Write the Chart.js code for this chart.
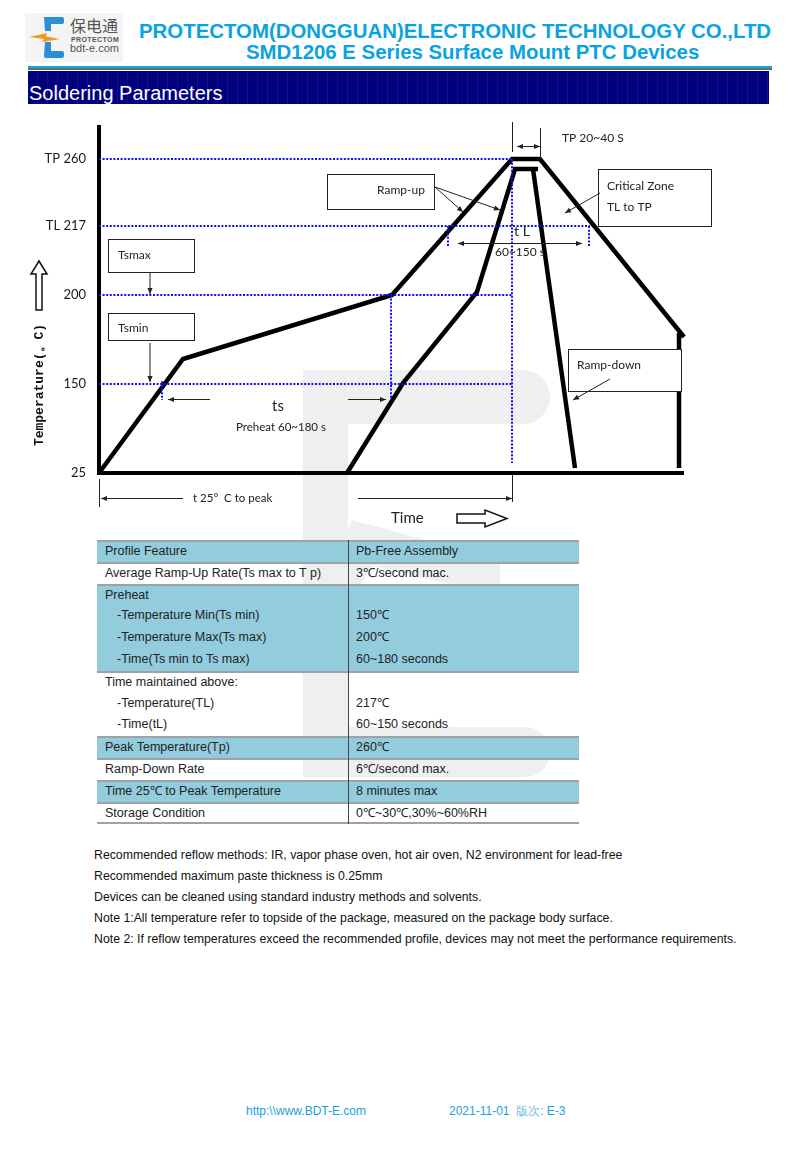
<!DOCTYPE html>
<html>
<head>
<meta charset="utf-8">
<script src="https://cdn.jsdelivr.net/npm/chart.js@4.4.1/dist/chart.umd.min.js"></script>
<style>
html, body { margin: 0; padding: 0; background: #fff; }
body { width: 800px; height: 1150px; position: relative; overflow: hidden;
       font-family: "Liberation Sans", Arial, sans-serif; }
.abs { position: absolute; }
.title { color: #0aa3e2; font-weight: bold; font-size: 20.4px; line-height: 20px; white-space: nowrap; }
#rule1 { left: 28px; top: 66px; width: 744px; height: 2px; background: #1aa6cf; }
#rule2 { left: 28px; top: 68px; width: 744px; height: 2px; background: #5f6f78; }
#bar { left: 28px; top: 71px; width: 741px; height: 33px;
       background: repeating-linear-gradient(90deg, #00007c 0 9px, #10108a 9px 10px); }
#bar span { position: absolute; left: 1px; top: 12px; color: #fff; font-size: 20px; line-height: 20px; white-space: nowrap; }
#watermark { left: 0; top: 0; z-index: 0; }
#profile { left: 0; top: 0; z-index: 1; }
#table { left: 97px; top: 540px; width: 482px; height: 283px; z-index: 2; font-size: 12.5px; color: #222; }
.row { position: absolute; left: 0; width: 482px; height: 21.8px; line-height: 21.8px; white-space: nowrap; }
.row.c { background: #93cddd; }
.row.sep { border-top: 2px solid #9aa3a6; box-sizing: border-box; line-height: 19.8px; }
.row .a { position: absolute; left: 8px; }
.row .a.ind { left: 20px; }
.row .b { position: absolute; left: 259px; }
.note { left: 94px; font-size: 12.3px; line-height: 21px; color: #111; white-space: nowrap; z-index: 2; }
.foot { top: 1103px; font-size: 12px; line-height: 16px; color: #1a9fe0; white-space: nowrap; }
</style>
</head>
<body>

<!-- faint logo watermark behind the chart and table -->
<svg id="watermark" class="abs" width="800" height="1150">
  <g fill="#efefef">
    <path d="M303 370 H523 A27 27 0 0 1 523 424 H348 V432 H303 Z"/>
    <rect x="303" y="370" width="45" height="407"/>
    <path d="M303 727 H525 A25 25 0 0 1 525 777 H303 Z"/>
    <path d="M318 598 L352 520 L500 560 L500 596 L372 566 L352 598 Z"/>
  </g>
</svg>

<!-- company logo -->
<svg class="abs" style="left:25px;top:13px" width="98" height="49">
  <rect x="0" y="0" width="98" height="49" fill="#f4f4f4"/>
  <path d="M19 4 H37 a2 2 0 0 1 2 2 V9 a2 2 0 0 1 -2 2 H26 V18 H20 Z" fill="#2b8fd7"/>
  <path d="M20 29 H26 V38 H37 a2 2 0 0 1 2 2 V43 a2 2 0 0 1 -2 2 H21 a2 2 0 0 1 -2 -2 Z" fill="#2b8fd7"/>
  <path d="M4 24 L22 20 L21 23.5 L35 26 L17 29 L19 26 Z" fill="#f39a1e"/>
  <text x="45" y="19" font-family="Noto Sans CJK SC" font-size="16" fill="#555">保电通</text>
  <text x="46" y="29" font-family="Liberation Sans" font-weight="bold" font-size="7" letter-spacing="0.4" fill="#555">PROTECTOM</text>
  <text x="45" y="39" font-family="Liberation Sans" font-size="11" fill="#555">bdt-e.com</text>
</svg>

<div class="abs title" style="left:139px;top:21px">PROTECTOM(DONGGUAN)ELECTRONIC TECHNOLOGY CO.,LTD</div>
<div class="abs title" style="left:246px;top:42px">SMD1206 E Series Surface Mount PTC Devices</div>
<div id="rule1" class="abs"></div>
<div id="rule2" class="abs"></div>
<div id="bar" class="abs"><span>Soldering Parameters</span></div>

<canvas id="profile" class="abs" width="800" height="540"></canvas>

<div id="table" class="abs"></div>

<div class="abs note" style="top:845px">Recommended reflow methods: IR, vapor phase oven, hot air oven, N2 environment for lead-free</div>
<div class="abs note" style="top:866px">Recommended maximum paste thickness is 0.25mm</div>
<div class="abs note" style="top:887px">Devices can be cleaned using standard industry methods and solvents.</div>
<div class="abs note" style="top:908px">Note 1:All temperature refer to topside of the package, measured on the package body surface.</div>
<div class="abs note" style="top:929px">Note 2: If reflow temperatures exceed the recommended profile, devices may not meet the performance requirements.</div>

<div class="abs foot" style="left:246px">http:\\www.BDT-E.com</div>
<div class="abs foot" style="left:449px">2021-11-01&nbsp; <span style="color:#6cbde6">版次</span>: E-3</div>

<script>
'use strict';

// ── Temperature axis (schematic, so levels are not to scale) ──────
const TEMP_LEVELS = [0, 1, 2, 2.775, 3.528];
const TEMP_LABELS = ['25', '150', '200', 'TL 217', 'TP 260'];

// ── Profile curves: time in plot units, temperature in axis levels ─
const profileATime       = [0, 84, 293, 413, 441, 585];
const profileALevel      = [0, 1.281, 2.0, 3.528, 3.528, 1.528];
const profileATailTime   = [580, 580];
const profileATailLevel  = [1.573, 0.056];

const profileBTime       = [248, 304, 378, 416, 439];
const profileBLevel      = [0, 1.011, 2.034, 3.416, 3.416];
const profileBDownTime   = [434, 476];
const profileBDownLevel  = [3.416, 0.056];

// ── Dotted reference lines ────────────────────────────────────────
const hGuideLevel = [3.528, 2.775, 2.0, 1.0];
const hGuideEnd   = [413, 491, 413, 413];
const vGuideTime  = [413, 292, 63, 349, 490];
const vGuideFrom  = [3.528, 2.0, 1.03, 2.775, 2.775];
const vGuideTo    = [0.112, 0.82, 0.82, 2.539, 2.539];

// ── Table rows: feature, value, background, group start, indent ───
const TABLE_ROWS = [
  ['Profile Feature',                     'Pb-Free Assembly',  'c', 1, 0],
  ['Average Ramp-Up Rate(Ts max to T p)', '3℃/second mac.',    'w', 1, 0],
  ['Preheat',                             '',                  'c', 1, 0],
  ['-Temperature Min(Ts min)',            '150℃',              'c', 0, 1],
  ['-Temperature Max(Ts max)',            '200℃',              'c', 0, 1],
  ['-Time(Ts min to Ts max)',             '60~180 seconds',    'c', 0, 1],
  ['Time maintained above:',              '',                  'w', 1, 0],
  ['-Temperature(TL)',                    '217℃',              'w', 0, 1],
  ['-Time(tL)',                           '60~150 seconds',    'w', 0, 1],
  ['Peak Temperature(Tp)',                '260℃',              'c', 1, 0],
  ['Ramp-Down Rate',                      '6℃/second max.',    'w', 1, 0],
  ['Time 25℃ to Peak Temperature',        '8 minutes max',     'c', 1, 0],
  ['Storage Condition',                   '0℃~30℃,30%~60%RH',  'w', 1, 0],
];

const pts = (ts, ls) => ts.map((t, i) => ({ x: t, y: ls[i] }));

function solid(ts, ls) {
  return { data: pts(ts, ls), borderColor: '#000', borderWidth: 4.5,
           borderJoinStyle: 'miter', borderCapStyle: 'butt', clip: false };
}
function dotted(ts, ls) {
  return { data: pts(ts, ls), borderColor: '#1010ee', borderWidth: 2,
           borderDash: [2, 1.6], clip: false };
}

const datasets = [];
hGuideLevel.forEach((l, i) => datasets.push(dotted([0, hGuideEnd[i]], [l, l])));
vGuideTime.forEach((t, i) => datasets.push(dotted([t, t], [vGuideFrom[i], vGuideTo[i]])));
datasets.push(solid(profileATime, profileALevel));
datasets.push(solid(profileATailTime, profileATailLevel));
datasets.push(solid(profileBTime, profileBLevel));
datasets.push(solid(profileBDownTime, profileBDownLevel));

// ── Drawing helpers for the labels, boxes and dimension arrows ────
function seg(ctx, x1, y1, x2, y2) {
  ctx.beginPath(); ctx.moveTo(x1, y1); ctx.lineTo(x2, y2); ctx.stroke();
}
function head(ctx, x1, y1, x2, y2) {
  const a = Math.atan2(y2 - y1, x2 - x1), L = 6, W = 2.6;
  ctx.beginPath();
  ctx.moveTo(x2, y2);
  ctx.lineTo(x2 - L * Math.cos(a) + W * Math.sin(a), y2 - L * Math.sin(a) - W * Math.cos(a));
  ctx.lineTo(x2 - L * Math.cos(a) - W * Math.sin(a), y2 - L * Math.sin(a) + W * Math.cos(a));
  ctx.closePath(); ctx.fill();
}
function arrow(ctx, x1, y1, x2, y2) { seg(ctx, x1, y1, x2, y2); head(ctx, x1, y1, x2, y2); }
function both(ctx, x1, y1, x2, y2) { arrow(ctx, x1, y1, x2, y2); head(ctx, x2, y2, x1, y1); }
function box(ctx, x, y, w, h) {
  ctx.fillStyle = '#fff'; ctx.fillRect(x, y, w, h);
  ctx.strokeRect(x + 0.5, y + 0.5, w, h);
  ctx.fillStyle = '#222';
}
function txt(ctx, s, x, y, size, align) {
  ctx.font = size + 'px Lato';
  ctx.textAlign = align || 'left';
  ctx.fillText(s, x, y);
}
function hollow(ctx, p) {
  ctx.beginPath(); ctx.moveTo(p[0][0], p[0][1]);
  p.slice(1).forEach(q => ctx.lineTo(q[0], q[1]));
  ctx.closePath(); ctx.fillStyle = '#fff'; ctx.fill(); ctx.stroke(); ctx.fillStyle = '#222';
}

const notesPlugin = {
  id: 'notes',
  afterDatasetsDraw(chart) {
    const ctx = chart.ctx;
    ctx.save();
    ctx.strokeStyle = '#222'; ctx.fillStyle = '#222'; ctx.lineWidth = 1;
    ctx.textBaseline = 'middle';

    // boxes
    box(ctx, 108, 239, 86, 33);  txt(ctx, 'Tsmax', 118, 255, 12);
    box(ctx, 108, 313, 86, 27);  txt(ctx, 'Tsmin', 118, 328, 12);
    box(ctx, 327, 174, 107, 35); txt(ctx, 'Ramp-up', 401, 190, 12, 'center');
    box(ctx, 598, 169, 113, 57); txt(ctx, 'Critical Zone', 607, 186, 12); txt(ctx, 'TL to TP', 607, 207, 12);
    box(ctx, 568, 349, 113, 42); txt(ctx, 'Ramp-down', 577, 365, 12);

    // pointer arrows
    arrow(ctx, 150, 272, 150, 294);
    arrow(ctx, 150, 343, 150, 382);
    arrow(ctx, 435, 187, 463, 212);
    arrow(ctx, 435, 187, 500, 210);
    arrow(ctx, 600, 193, 565, 213);
    arrow(ctx, 610, 379, 573, 400);

    // TP dwell dimension
    seg(ctx, 512.5, 122, 512.5, 152);
    seg(ctx, 540.5, 128, 540.5, 158);
    both(ctx, 517, 146.5, 540, 146.5);
    txt(ctx, 'TP 20~40 S', 562, 138, 12);

    // time above liquidus
    both(ctx, 458, 243.5, 582, 243.5);
    txt(ctx, 't L', 522, 231, 14, 'center');
    txt(ctx, '60~150 s', 520, 252, 12, 'center');

    // preheat
    arrow(ctx, 210, 399.5, 168, 399.5);
    arrow(ctx, 348, 399.5, 386, 399.5);
    txt(ctx, 'ts', 278, 406, 15, 'center');
    txt(ctx, 'Preheat 60~180 s', 236, 427, 11.5);

    // 25 °C to peak
    seg(ctx, 99.5, 479, 99.5, 507);
    arrow(ctx, 183, 498.5, 101, 498.5);
    txt(ctx, 't 25°  C to peak', 193, 498, 11.5);
    seg(ctx, 512.5, 475, 512.5, 502);
    arrow(ctx, 358, 498.5, 512, 498.5);

    // axis names
    txt(ctx, 'Time', 391, 518, 15);
    ctx.lineWidth = 1.5; ctx.strokeStyle = '#111';
    hollow(ctx, [[457, 514], [485, 514], [485, 510], [507, 518.5], [485, 527], [485, 523], [457, 523]]);
    hollow(ctx, [[39, 261], [47, 274], [42, 274], [42, 310], [36, 310], [36, 274], [31, 274]]);

    ctx.translate(40, 385);
    ctx.rotate(-Math.PI / 2);
    ctx.font = 'bold 13px "Liberation Mono"';
    ctx.textAlign = 'center';
    ctx.fillStyle = '#111';
    ctx.fillText('Temperature(。C)', 0, 0);
    ctx.restore();
  }
};

new Chart(document.getElementById('profile'), {
  type: 'line',
  data: { datasets },
  options: {
    responsive: false,
    animation: false,
    devicePixelRatio: 1,
    layout: { padding: { left: 0, top: 127, right: 117, bottom: 67 } },
    plugins: { legend: { display: false }, tooltip: { enabled: false } },
    elements: { point: { radius: 0 }, line: { tension: 0 } },
    scales: {
      x: {
        type: 'linear', min: 0, max: 584,
        ticks: { display: false },
        grid: { display: false },
        border: { display: true, width: 4, color: '#000' },
        afterFit: s => { s.height = 0; }
      },
      y: {
        type: 'linear', min: 0, max: 3.888,
        grid: { display: false, drawTicks: false },
        border: { display: true, width: 4, color: '#000' },
        ticks: {
          padding: 13, color: '#1a1a1a', font: { family: 'Lato', size: 13 },
          callback: (v, i) => TEMP_LABELS[i]
        },
        afterBuildTicks: s => { s.ticks = TEMP_LEVELS.map(v => ({ value: v })); },
        afterFit: s => { s.width = 99; }
      }
    }
  },
  plugins: [notesPlugin]
});

// ── Parameter table ───────────────────────────────────────────────
const table = document.getElementById('table');
const ROW_H = 21.8;
TABLE_ROWS.forEach((r, i) => {
  const d = document.createElement('div');
  d.className = 'row ' + r[2] + (r[3] ? ' sep' : '');
  d.style.top = (i * ROW_H) + 'px';
  d.innerHTML = `<span class="a${r[4] ? ' ind' : ''}">${r[0]}</span><span class="b">${r[1]}</span>`;
  table.appendChild(d);
});
const bottom = document.createElement('div');
bottom.style.cssText = `position:absolute;left:0;top:${TABLE_ROWS.length * ROW_H - 1}px;width:482px;height:2px;background:#9aa3a6`;
table.appendChild(bottom);
const divider = document.createElement('div');
divider.style.cssText = 'position:absolute;left:251px;top:0;width:1px;height:284px;background:#444';
table.appendChild(divider);
</script>
</body>
</html>
